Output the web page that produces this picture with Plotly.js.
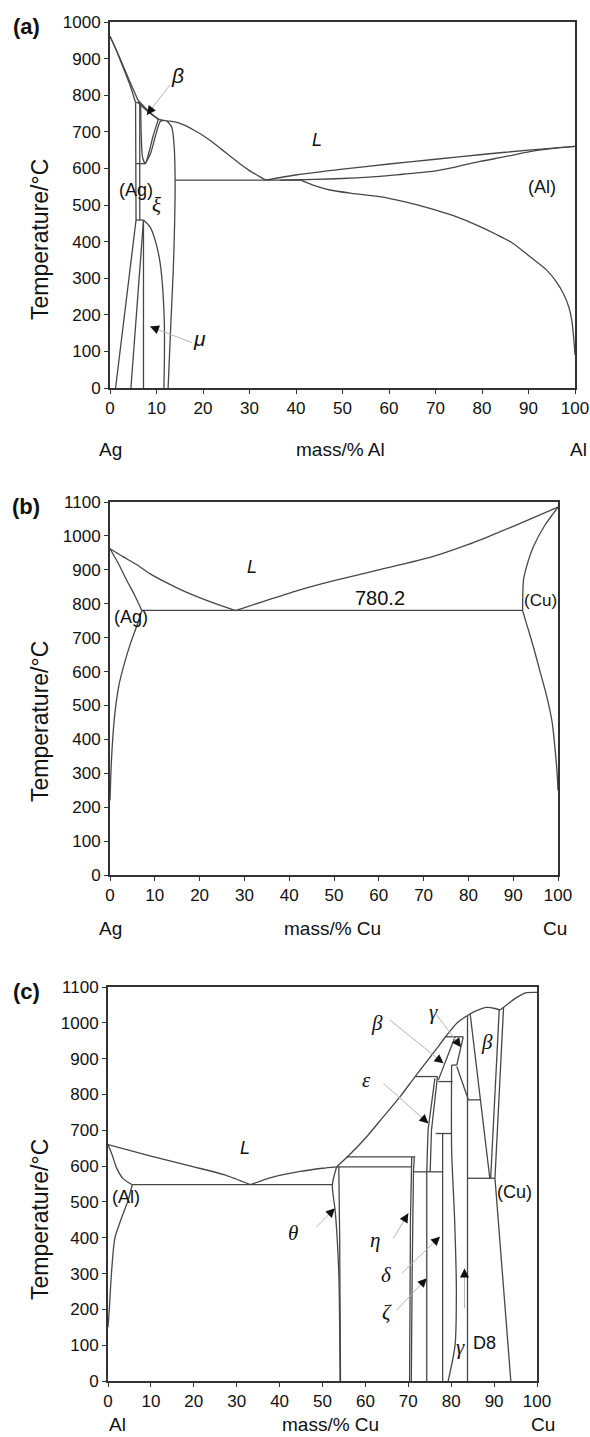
<!DOCTYPE html>
<html><head><meta charset="utf-8">
<script src="https://cdn.plot.ly/plotly-3.0.1.min.js"></script>
<style>html,body{margin:0;padding:0;background:#fff}</style>
</head><body><div id="chart" style="width:590px;height:1437px"></div>
<script>
// ---------------- Panel (a): Ag–Al ----------------
const a_ag_solidus_x = [0, 1.5, 3, 4.3, 5.5];
const a_ag_solidus_y = [961, 918, 870, 828, 780];
const a_liquidus_x = [0, 2, 4, 6];
const a_liquidus_y = [961, 905, 845, 787];
const a_liquidus2_x = [6, 8, 10.5, 12.2, 14, 16, 18, 20, 22, 24, 26, 28, 30, 32, 33.5];
const a_liquidus2_y = [787, 760, 734, 730, 727, 718, 705, 690, 672, 652, 632, 612, 594, 579, 568];
const a_liquidus_al_x = [33.5, 40, 50, 60, 70, 80, 90, 100];
const a_liquidus_al_y = [568, 582, 598, 612, 625, 638, 650, 660];
const a_al_solidus_x = [36.6, 41, 47, 53, 58, 63, 68.8, 74, 79.6, 85, 90.3, 95, 100];
const a_al_solidus_y = [568, 569, 571, 574, 578, 584, 591, 603, 619, 632, 646, 654, 660];
const a_al_solvus_x = [41, 44, 47.3, 52, 58, 63, 68.8, 74, 79.6, 83, 86.7, 90, 93.9, 96, 97.5, 98.7, 99.3, 99.7, 100];
const a_al_solvus_y = [568, 553, 541, 532, 523, 510, 491, 470, 441, 420, 395, 362, 322, 290, 258, 220, 186, 140, 90];
const a_eutectic_x = [14, 41];
const a_eutectic_y = [568, 568];
const a_peritectic_x = [5.5, 6.4];
const a_peritectic_y = [780, 780];
const a_ag_solvus_x = [5.5, 5.6, 5.6, 1.2];
const a_ag_solvus_y = [780, 613, 459, 0];
const a_xi_vert_x = [6.4, 6.4];
const a_xi_vert_y = [780, 459];
const a_eutectoid613_x = [5.6, 7.6];
const a_eutectoid613_y = [613, 613];
const a_beta_top_x = [6.0, 8.0, 10.4];
const a_beta_top_y = [780, 757, 734];
const a_beta_low_x = [6.6, 6.7, 7.0, 7.6, 8.4, 9.3, 10.4];
const a_beta_low_y = [775, 700, 630, 613, 645, 690, 734];
const a_xi_left_x = [7.6, 8.7, 9.8, 10.8, 11.5];
const a_xi_left_y = [613, 640, 690, 728, 731];
const a_eutectoid459_x = [5.6, 7.2];
const a_eutectoid459_y = [459, 459];
const a_mu_left_x = [7.2, 4.5];
const a_mu_left_y = [459, 0];
const a_mu_mid_x = [7.2, 7.2];
const a_mu_mid_y = [459, 0];
const a_mu_right_x = [7.2, 8.6, 9.8, 10.8, 11.4, 11.7, 11.7, 11.6];
const a_mu_right_y = [459, 440, 400, 340, 260, 170, 80, 0];
const a_xi_right_x = [12.2, 13.3, 13.8, 14, 13.9, 13.6, 13.1, 12.7, 12.5];
const a_xi_right_y = [730, 712, 660, 568, 450, 320, 180, 60, 0];
const a_labels = ['L', 'β', '(Ag)', 'ξ', '(Al)', 'μ'];
const a_label_x = [44.5, 14.6, 5.6, 10.1, 92.8, 19.2];
const a_label_y = [678, 855, 541, 500, 550, 136];
const a_leader_start_x = [12.9, 17.6];
const a_leader_start_y = [828, 124];
const a_leader_end_x = [7.9, 8.6];
const a_leader_end_y = [746, 168];

// ---------------- Panel (b): Ag–Cu ----------------
const b_liquidus_ag_x = [0, 3, 6, 9, 12.6, 16, 20, 24, 28];
const b_liquidus_ag_y = [962, 938, 915, 888, 862, 840, 818, 798, 780];
const b_ag_solidus_x = [0, 2, 3.7, 5.5, 7.1];
const b_ag_solidus_y = [962, 915, 870, 825, 780];
const b_ag_solvus_x = [7.1, 6, 4.5, 3, 2, 1.1, 0.5, 0.2, 0];
const b_ag_solvus_y = [780, 735, 680, 614, 560, 478, 380, 300, 220];
const b_liquidus_cu_x = [28, 35, 42.4, 50, 60, 72, 80, 87, 93, 100];
const b_liquidus_cu_y = [780, 810, 841, 868, 900, 939, 975, 1012, 1045, 1085];
const b_cu_solidus_x = [100, 97, 94.5, 93, 92.3, 92.1];
const b_cu_solidus_y = [1085, 1030, 968, 910, 870, 780];
const b_cu_solvus_x = [92.1, 93, 94.5, 96, 97.5, 98.7, 99.3, 99.8, 100];
const b_cu_solvus_y = [780, 740, 673, 600, 526, 450, 378, 300, 250];
const b_eutectic_x = [7.1, 92.1];
const b_eutectic_y = [780.2, 780.2];
const b_labels = ['L', '780.2', '(Ag)', '(Cu)'];
const b_label_x = [31.6, 60.3, 4.6, 96.1];
const b_label_y = [909, 816, 762, 811];

// ---------------- Panel (c): Al–Cu ----------------
const c_liquidus_al_x = [0, 10, 20, 27, 33.2];
const c_liquidus_al_y = [660, 628, 598, 576, 548];
const c_al_solidus_x = [0, 1, 2, 3.5, 5.65];
const c_al_solidus_y = [660, 630, 595, 565, 548];
const c_al_solvus_x = [5.65, 4.7, 3, 1.6, 0.8, 0.3, 0];
const c_al_solvus_y = [548, 505, 450, 399, 300, 200, 150];
const c_eutectic_x = [5.65, 52.3];
const c_eutectic_y = [548, 548];
const c_liq_eut_x = [33.2, 38, 44.8, 50, 53.3];
const c_liq_eut_y = [548, 568, 585, 594, 598];
const c_liq_rise_x = [53.3, 56, 60.3, 64.2, 68.1, 71.6, 75.8, 79, 81.3, 83.6];
const c_liq_rise_y = [598, 628, 682, 738, 794, 850, 915, 966, 999, 1019];
const c_liq_top_x = [83.6, 85.9, 88.3, 90.2, 91.4];
const c_liq_top_y = [1019, 1034, 1043, 1040, 1036];
const c_liq_cu_x = [91.4, 92.9, 95.3, 97.6, 100];
const c_liq_cu_y = [1036, 1050, 1071, 1084, 1085];
const c_h598_x = [53.3, 70.8];
const c_h598_y = [598, 598];
const c_h626_x = [55.6, 71.6];
const c_h626_y = [626, 626];
const c_theta_left_x = [53.3, 52.3, 53.0, 53.8, 54.1];
const c_theta_left_y = [598, 548, 470, 300, 0];
const c_theta_right_x = [53.8, 54.0, 54.2];
const c_theta_right_y = [598, 400, 0];
const c_eta_left_x = [70.8, 70.5, 70.3];
const c_eta_left_y = [626, 450, 0];
const c_eta_right_x = [71.4, 71.2, 70.9, 70.7];
const c_eta_right_y = [626, 584, 300, 0];
const c_h584_x = [71.2, 78];
const c_h584_y = [584, 584];
const c_zeta_x = [74.3, 74.3];
const c_zeta_y = [584, 0];
const c_eps_left_x = [74.3, 74.6, 76.2];
const c_eps_left_y = [584, 700, 845];
const c_eps_right_x = [75.1, 75.4, 76.8];
const c_eps_right_y = [584, 700, 850];
const c_h850_x = [71.6, 76.8];
const c_h850_y = [850, 850];
const c_v78_x = [78, 78];
const c_v78_y = [691, 0];
const c_h691_x = [76.4, 80.1];
const c_h691_y = [691, 691];
const c_h836_x = [77, 80.3];
const c_h836_y = [836, 836];
const c_gamma_x = [80.1, 80.1, 80.8, 81.2, 80.9, 79.3];
const c_gamma_y = [882, 645, 450, 250, 100, 0];
const c_diag_a_x = [80.9, 77];
const c_diag_a_y = [961, 840];
const c_h961_x = [78.6, 82.8];
const c_h961_y = [961, 961];
const c_h882_x = [80.1, 81.3];
const c_h882_y = [882, 882];
const c_diag_b_x = [82.8, 81.3];
const c_diag_b_y = [961, 882];
const c_diag_c_x = [81.3, 84];
const c_diag_c_y = [878, 785];
const c_v84_x = [83.8, 83.8];
const c_v84_y = [1021, 0];
const c_h785_x = [83.8, 86.9];
const c_h785_y = [785, 785];
const c_beta_left_x = [84.4, 89.0];
const c_beta_left_y = [1027, 566];
const c_beta_right_x = [91.2, 89.2];
const c_beta_right_y = [1038, 566];
const c_cu_left_x = [92.2, 90.2, 93.9];
const c_cu_left_y = [1042, 566, 0];
const c_h566_x = [83.8, 90.2];
const c_h566_y = [566, 566];
const c_labels = ['L', '(Al)', 'θ', 'η', 'δ', 'ζ', 'γ', 'D8', '(Cu)', 'β', 'γ', 'ε', 'β'];
const c_label_x = [31.9, 4.2, 43.2, 62.2, 65, 65, 82.2, 87.8, 94.8, 62.6, 75.8, 60.3, 88.3];
const c_label_y = [650, 514, 413, 394, 296, 194, 96, 105, 529, 999, 1031, 840, 947];
const c_leader_start_x = [48.6, 66.5, 68.5, 67.3, 65.7, 76.6, 64.2, 83.1];
const c_leader_start_y = [430, 398, 301, 198, 1008, 1022, 831, 203];
const c_leader_end_x = [52.9, 70.0, 77.4, 74.3, 78.2, 82.3, 74.7, 83.1];
const c_leader_end_y = [482, 468, 403, 287, 887, 932, 719, 314];

// ---------------- Build figure ----------------
const W = 590, H = 1437;
const LINE = '#474747';
const FONT = 'Liberation Sans, Arial, Helvetica, sans-serif';
const SERIF = 'Liberation Serif, DejaVu Serif, serif';
const P = {
  a: {xa: 'x', ya: 'y', l: 110, r: 575, t: 22, b: 388, ymax: 1000},
  b: {xa: 'x2', ya: 'y2', l: 110, r: 558, t: 502, b: 875, ymax: 1100},
  c: {xa: 'x3', ya: 'y3', l: 108, r: 537, t: 987, b: 1381, ymax: 1100}
};
const traces = [];
function seg(xs, ys, p, color, width, smooth) {
  const line = {color: color || LINE, width: width || 1.3};
  if (smooth) { line.shape = 'spline'; line.smoothing = 0.7; }
  traces.push({type: 'scatter', mode: 'lines', x: xs, y: ys, xaxis: p.xa, yaxis: p.ya,
    line: line, hoverinfo: 'skip', showlegend: false});
}
const A = P.a, B = P.b, C = P.c;
// [x, y, smooth?]
[[a_ag_solidus_x, a_ag_solidus_y, 1], [a_liquidus_x, a_liquidus_y, 1], [a_liquidus2_x, a_liquidus2_y, 1],
 [a_liquidus_al_x, a_liquidus_al_y, 1], [a_al_solidus_x, a_al_solidus_y, 1], [a_al_solvus_x, a_al_solvus_y, 1],
 [a_eutectic_x, a_eutectic_y], [a_peritectic_x, a_peritectic_y], [a_ag_solvus_x, a_ag_solvus_y],
 [a_xi_vert_x, a_xi_vert_y], [a_eutectoid613_x, a_eutectoid613_y], [a_beta_top_x, a_beta_top_y, 1],
 [a_beta_low_x, a_beta_low_y, 1], [a_xi_left_x, a_xi_left_y, 1], [a_eutectoid459_x, a_eutectoid459_y],
 [a_mu_left_x, a_mu_left_y], [a_mu_mid_x, a_mu_mid_y], [a_mu_right_x, a_mu_right_y, 1],
 [a_xi_right_x, a_xi_right_y, 1]
].forEach(d => seg(d[0], d[1], A, null, null, d[2]));
[[b_liquidus_ag_x, b_liquidus_ag_y, 1], [b_ag_solidus_x, b_ag_solidus_y, 1], [b_ag_solvus_x, b_ag_solvus_y, 1],
 [b_liquidus_cu_x, b_liquidus_cu_y, 1], [b_cu_solidus_x, b_cu_solidus_y, 1], [b_cu_solvus_x, b_cu_solvus_y, 1],
 [b_eutectic_x, b_eutectic_y]
].forEach(d => seg(d[0], d[1], B, null, null, d[2]));
[[c_liquidus_al_x, c_liquidus_al_y, 1], [c_al_solidus_x, c_al_solidus_y, 1], [c_al_solvus_x, c_al_solvus_y, 1],
 [c_eutectic_x, c_eutectic_y], [c_liq_eut_x, c_liq_eut_y, 1], [c_liq_rise_x, c_liq_rise_y, 1],
 [c_liq_top_x, c_liq_top_y, 1], [c_liq_cu_x, c_liq_cu_y, 1], [c_h598_x, c_h598_y], [c_h626_x, c_h626_y],
 [c_theta_left_x, c_theta_left_y, 1], [c_theta_right_x, c_theta_right_y], [c_eta_left_x, c_eta_left_y],
 [c_eta_right_x, c_eta_right_y], [c_h584_x, c_h584_y], [c_zeta_x, c_zeta_y], [c_eps_left_x, c_eps_left_y],
 [c_eps_right_x, c_eps_right_y], [c_h850_x, c_h850_y], [c_v78_x, c_v78_y], [c_h691_x, c_h691_y],
 [c_h836_x, c_h836_y], [c_gamma_x, c_gamma_y, 1], [c_diag_a_x, c_diag_a_y], [c_h961_x, c_h961_y],
 [c_h882_x, c_h882_y], [c_diag_b_x, c_diag_b_y], [c_diag_c_x, c_diag_c_y], [c_v84_x, c_v84_y],
 [c_h785_x, c_h785_y], [c_beta_left_x, c_beta_left_y], [c_beta_right_x, c_beta_right_y],
 [c_cu_left_x, c_cu_left_y], [c_h566_x, c_h566_y]
].forEach(d => seg(d[0], d[1], C, null, null, d[2]));

const annotations = [];
function leaders(p, sx, sy, ex, ey) {
  const kx = (p.r - p.l) / 100, ky = (p.b - p.t) / p.ymax;
  for (let i = 0; i < sx.length; i++) {
    seg([sx[i], ex[i]], [sy[i], ey[i]], p, '#b4b4b4', 1);
    const vx = (sx[i] - ex[i]) * kx, vy = -(sy[i] - ey[i]) * ky;
    const n = Math.hypot(vx, vy) || 1;
    annotations.push({xref: p.xa, yref: p.ya, x: ex[i], y: ey[i], ax: vx / n * 9, ay: vy / n * 9,
      text: '', showarrow: true, arrowhead: 2, arrowsize: 1, arrowwidth: 1.8, arrowcolor: '#111'});
  }
}
leaders(A, a_leader_start_x, a_leader_start_y, a_leader_end_x, a_leader_end_y);
leaders(C, c_leader_start_x, c_leader_start_y, c_leader_end_x, c_leader_end_y);

function isItalic(t) { return /^[Lβξμθηδζγε]$/.test(t); }
function isGreek(t) { return /^[βξμθηδζγε]$/.test(t); }
function labels(p, txt, xs, ys, serifGreek) {
  txt.forEach((t, i) => {
    let family = FONT;
    if (isGreek(t) && (serifGreek || t === 'ξ')) family = SERIF;
    let size = isGreek(t) ? 21 : 18;
    if (t === '780.2') size = 20;
    if (t === '(Cu)' && p === B) size = 17;
    annotations.push({xref: p.xa, yref: p.ya, x: xs[i], y: ys[i], showarrow: false,
      text: isItalic(t) ? '<i>' + t + '</i>' : t, font: {family: family, size: size, color: '#111'}});
  });
}
labels(A, a_labels, a_label_x, a_label_y, false);
labels(B, b_labels, b_label_x, b_label_y, false);
labels(C, c_labels, c_label_x, c_label_y, true);

function paperText(t, px, py, opts) {
  annotations.push(Object.assign({xref: 'paper', yref: 'paper', x: px / W, y: 1 - py / H,
    xanchor: 'center', yanchor: 'middle', showarrow: false, text: t,
    font: {family: FONT, size: 19, color: '#111'}}, opts || {}));
}
const panelFont = {family: FONT, size: 22, color: '#111'};
paperText('<b>(a)</b>', 26, 26, {font: panelFont});
paperText('<b>(b)</b>', 26, 506, {font: panelFont});
paperText('<b>(c)</b>', 26, 992, {font: panelFont});
const yTitleFont = {family: FONT, size: 23, color: '#111'};
paperText('Temperature/°C', 40, 240, {textangle: -90, font: yTitleFont});
paperText('Temperature/°C', 40, 722, {textangle: -90, font: yTitleFont});
paperText('Temperature/°C', 40, 1220, {textangle: -90, font: yTitleFont});
paperText('Ag', 110, 450); paperText('mass/% Al', 340, 450); paperText('Al', 578, 450);
paperText('Ag', 110, 928); paperText('mass/% Cu', 332, 928); paperText('Cu', 555, 928);
paperText('Al', 117, 1424); paperText('mass/% Cu', 330, 1424); paperText('Cu', 543, 1424);

function xAxis(p, anchor) {
  return {domain: [p.l / W, p.r / W], anchor: anchor, range: [0, 100], tick0: 0, dtick: 10,
    showline: true, mirror: true, linecolor: '#333', linewidth: 2, ticks: 'outside', ticklen: 4,
    tickcolor: '#333', tickfont: {family: FONT, size: 17, color: '#111'}, showgrid: false,
    zeroline: false, fixedrange: true};
}
function yAxis(p, anchor) {
  return {domain: [1 - p.b / H, 1 - p.t / H], anchor: anchor, range: [0, p.ymax], tick0: 0, dtick: 100,
    showline: true, mirror: true, linecolor: '#333', linewidth: 2, ticks: 'outside', ticklen: 4,
    tickcolor: '#333', tickfont: {family: FONT, size: 17, color: '#111'}, showgrid: false,
    zeroline: false, fixedrange: true};
}
const layout = {
  width: W, height: H, margin: {l: 0, r: 0, t: 0, b: 0}, paper_bgcolor: '#fff', plot_bgcolor: '#fff',
  showlegend: false,
  xaxis: xAxis(A, 'y'), yaxis: yAxis(A, 'x'),
  xaxis2: xAxis(B, 'y2'), yaxis2: yAxis(B, 'x2'),
  xaxis3: xAxis(C, 'y3'), yaxis3: yAxis(C, 'x3'),
  annotations: annotations
};
Plotly.newPlot('chart', traces, layout, {staticPlot: true, displayModeBar: false});
</script></body></html>
